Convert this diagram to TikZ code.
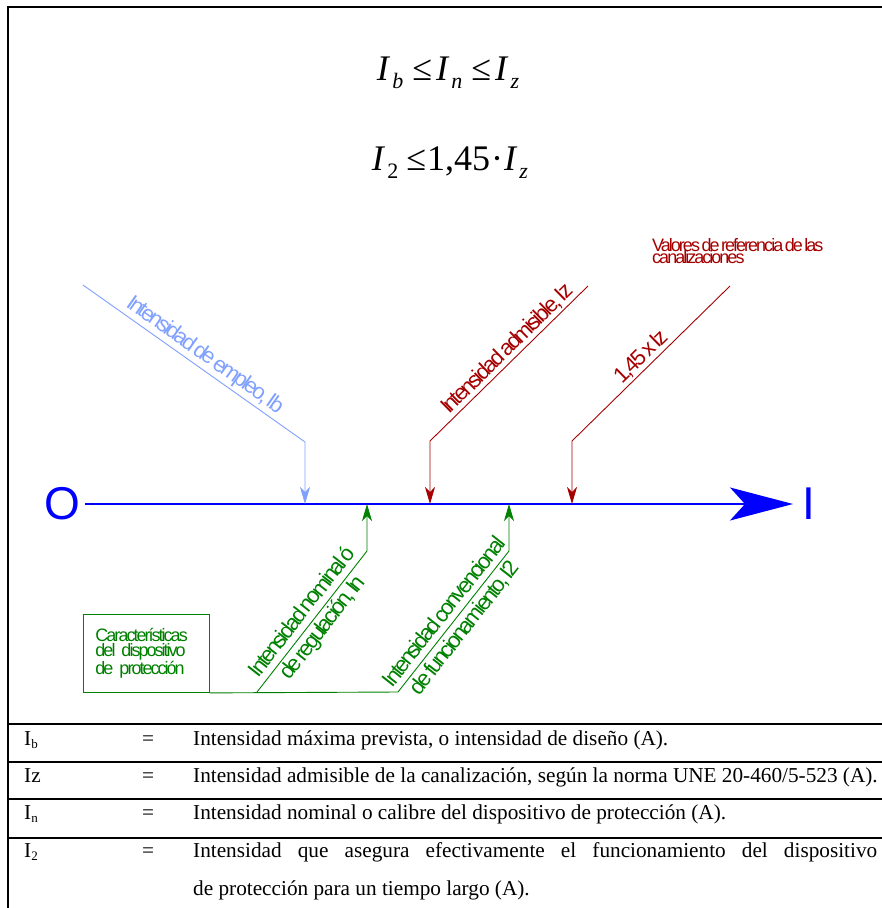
\documentclass[tikz,border=0pt]{standalone}
\usepackage{fontspec}
\setmainfont{Liberation Serif}
\newfontfamily\cadfont[LetterSpace=-11,WordSpace=0.5]{Liberation Sans}
\newfontfamily\axfont{Liberation Sans}
\usetikzlibrary{arrows.meta}
\definecolor{lblue}{RGB}{128,160,255}
\definecolor{dred}{RGB}{165,0,0}
\definecolor{dgreen}{RGB}{0,128,0}
\definecolor{axblue}{RGB}{0,0,255}
\newcommand{\subx}[1]{\raisebox{-8pt}{\fontsize{22}{22}\selectfont #1}}
\newcommand{\subt}[1]{\raisebox{-3pt}{\fontsize{13}{13}\selectfont #1}}
\begin{document}
\begin{tikzpicture}[x=1pt,y=-1pt,
  thinline/.style={line width=0.9pt},
  tiparrow/.style={-{Stealth[length=17pt,width=10pt,inset=5pt]}},
  cadlabel/.style={font=\cadfont\fontsize{22}{26}\selectfont, inner sep=2pt},
  cadsmall/.style={font=\cadfont\fontsize{18}{12}\selectfont, inner sep=0pt, anchor=base west},
  tabtext/.style={font=\fontsize{21.25}{38}\selectfont, inner sep=0pt, anchor=base west},
  formula/.style={font=\fontsize{36}{36}\selectfont, inner sep=0pt, anchor=base},
  tabrule/.style={line width=2pt},
]
\useasboundingbox (0,0) rectangle (882,908);
% frame and table rules
\draw[tabrule] (882,7) -- (8,7) -- (8,908);
\foreach \yy in {724,762,799,838} \draw[tabrule] (8,\yy) -- (882,\yy);

% formulas
\node[formula] (f1) at (448,80) {\textit{I}\hspace{2pt}\subx{\textit{b}}\hspace{9pt}≤\hspace{4pt}\textit{I}\hspace{2pt}\subx{\textit{n}}\hspace{9pt}≤\hspace{4pt}\textit{I}\hspace{2pt}\subx{\textit{z}}};
\node[formula] (f2) at (450,170) {\textit{I}\hspace{2pt}\subx{2}\hspace{8pt}≤\hspace{1pt}1,45\hspace{1pt}·\hspace{1pt}\textit{I}\hspace{2pt}\subx{\textit{z}}};

% axis
\coordinate (axL) at (85,504);
\coordinate (axR) at (793,504);
\node[text=axblue, font=\axfont\fontsize{46}{46}\selectfont, inner sep=0pt] (O) at (62,504) {O};
\node[text=axblue, font=\axfont\fontsize{46}{46}\selectfont, inner sep=0pt] (Ilab) at (809,504) {I};
\draw[axblue, line width=1.3pt, -{Stealth[length=63pt,width=33pt,inset=15pt]}] (axL) -- (axR);

\coordinate (pIb) at (305,504);
\coordinate (pIn) at (367,504);
\coordinate (pIz) at (430,504);
\coordinate (pI2) at (509,504);
\coordinate (p145) at (572,504);

% Ib
\coordinate (ibS) at (83,285);
\coordinate (ibB) at (305,442);
\draw[lblue, thinline, tiparrow] (ibS) -- node[sloped, above, pos=0.515, cadlabel, text=lblue] (tIb) {Intensidad de empleo, Ib} (ibB) -- (pIb);

% Iz
\coordinate (izS) at (588,286);
\coordinate (izB) at (430,441);
\draw[dred, thinline, tiparrow] (izS) -- node[sloped, above, pos=0.46, cadlabel, text=dred] (tIz) {Intensidad admisible, Iz} (izB) -- (pIz);

% 1,45 Iz
\coordinate (fS) at (730,286);
\coordinate (fB) at (572,441);
\draw[dred, thinline, tiparrow] (fS) -- node[sloped, above, pos=0.51, cadlabel, text=dred] (t145) {1,45 x Iz} (fB) -- (p145);

\node[cadsmall, text=dred] (val1) at (652,251) {Valores de referencia de las};
\node[cadsmall, text=dred] (val2) at (652,263) {canalizaciones};

% green box
\node[draw=dgreen, thinline, anchor=north west, minimum width=126pt, minimum height=78pt,
      text width=102pt, inner xsep=12pt, inner ysep=0pt, align=left, text=dgreen,
      font=\cadfont\fontsize{18}{15.5}\selectfont] (box) at (83,614)
      {Características\\del dispositivo\\de protección};

\coordinate (g1S) at (257,692);
\coordinate (g1B) at (367,551);
\coordinate (g2S) at (398,692);
\coordinate (g2B) at (509,551);
\draw[dgreen, thinline] (box.south east) -- (g2S);
\draw[dgreen, thinline, tiparrow] (g1S) -- node[sloped, pos=0.51, cadlabel, align=center, text=dgreen] (tIn) {Intensidad nominal ó\\de regulación, In} (g1B) -- (pIn);
\draw[dgreen, thinline, tiparrow] (g2S) -- node[sloped, pos=0.51, cadlabel, align=center, text=dgreen] (tI2) {Intensidad convencional\\de funcionamiento, I2} (g2B) -- (pI2);

% table text
\node[tabtext] (s1) at (24,745) {I\subt{b}};
\node[tabtext, anchor=base] (e1) at (148,745) {=};
\node[tabtext] (d1) at (193,745) {Intensidad máxima prevista, o intensidad de diseño (A).};
\node[tabtext] (s2) at (24,782) {Iz};
\node[tabtext, anchor=base] (e2) at (148,782) {=};
\node[tabtext] (d2) at (193,782) {Intensidad admisible de la canalización, según la norma UNE 20-460/5-523 (A).};
\node[tabtext] (s3) at (24,819) {I\subt{n}};
\node[tabtext, anchor=base] (e3) at (148,819) {=};
\node[tabtext] (d3) at (193,819) {Intensidad nominal o calibre del dispositivo de protección (A).};
\node[tabtext] (s4) at (24,857) {I\subt{2}};
\node[tabtext, anchor=base] (e4) at (148,857) {=};
\node[tabtext] (d4) at (193,857) {\hbox to 684pt{Intensidad que asegura efectivamente el funcionamiento del dispositivo}};
\node[tabtext] (d4b) at (193,895) {de protección para un tiempo largo (A).};
\end{tikzpicture}
\end{document}
